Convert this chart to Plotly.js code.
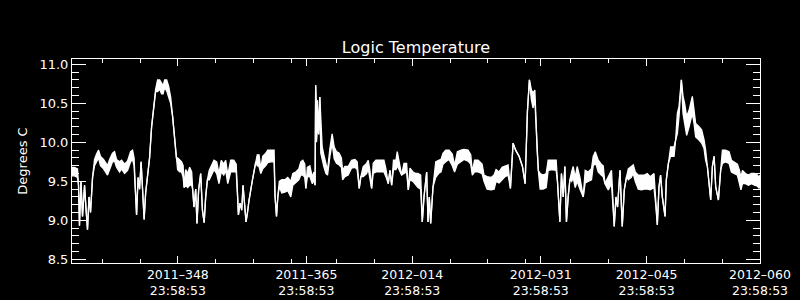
<!DOCTYPE html>
<html>
<head>
<meta charset="utf-8">
<script src="https://cdn.plot.ly/plotly-3.0.1.min.js"></script>
<style>
html,body{margin:0;padding:0;background:#000;}
#chart{width:800px;height:300px;}
</style>
</head>
<body>
<div id="chart"></div>
<script>
// Time axis: elapsed days since 2011-334 (2011-11-30) 23:58:53
const START_TIME = '2011-11-30 23:58:53';
const END_TIME = '2012-02-29 23:58:53';

const elapsedDays = [
0.00,0.33,0.73,0.86,0.99,1.19,1.39,1.66,1.85,2.05,2.25,2.45,2.72,2.98,3.25,3.51,3.77,4.17,4.70,4.97,
5.36,5.63,5.89,6.29,6.56,6.95,7.35,7.75,8.01,8.21,8.34,8.54,8.74,8.94,9.14,9.34,9.54,9.74,10.00,10.26,
10.53,10.79,11.06,11.32,11.59,11.85,12.05,12.25,12.52,12.78,13.05,13.31,13.58,13.80,13.97,14.24,14.50,14.70,14.83,
15.03,15.30,15.56,15.83,15.96,16.13,16.36,16.53,16.75,17.02,17.25,17.48,17.68,17.91,18.15,18.48,18.78,19.14,19.44,19.74,
20.07,20.33,20.60,20.99,21.39,21.72,21.88,22.01,22.23,22.45,22.62,22.81,23.02,23.21,23.42,23.87,24.30,24.50,24.74,24.97,
25.23,25.63,25.89,26.29,26.73,26.86,27.05,27.22,27.42,27.75,28.15,28.54,28.94,29.21,29.60,30.00,30.26,
30.53,30.79,30.93,31.13,31.46,31.79,31.99,32.15,32.23,32.34,32.48,32.65,32.78,32.91,33.09,33.31,33.58,33.80,34.11,34.41,
34.68,34.99,35.34,35.63,35.79,36.09,36.53,36.98,37.42,37.72,37.99,38.21,38.52,38.97,39.18,39.40,39.63,39.84,40.20,40.73,
41.26,41.52,41.83,42.05,42.28,42.52,42.85,43.02,43.38,43.60,43.91,44.26,44.48,44.70,45.10,45.50,
45.76,46.12,46.33,46.56,46.91,47.09,47.26,47.44,47.75,48.11,48.48,48.81,49.07,49.43,49.87,50.30,50.60,50.97,51.46,51.85,
52.38,52.74,52.95,53.25,53.71,54.24,54.50,54.90,55.43,55.83,56.09,56.49,56.89,57.28,57.68,57.99,58.34,58.68,59.14,59.58,
59.93,60.24,60.50,60.77,60.99,61.22,61.35,61.52,61.68,
61.92,62.32,62.72,62.98,63.51,64.04,64.21,64.40,64.53,64.74,64.97,65.19,65.40,65.63,65.85,66.09,66.29,66.56,66.82,67.18,
67.62,67.88,68.28,68.71,68.94,69.21,69.38,69.60,70.00,70.26,70.49,70.93,71.36,71.72,71.95,72.16,72.48,72.78,73.05,73.35,
73.58,73.97,74.24,74.50,74.90,75.30,75.70,
76.09,76.49,76.98,77.19,77.42,77.64,77.85,78.08,78.30,78.44,78.61,78.87,79.18,79.63,79.84,80.07,80.29,80.60,80.82,81.03,
81.30,81.62,82.05,82.28,82.49,82.94,83.28,83.60,83.81,84.04,84.26,84.48,84.70,84.93,85.14,85.50,85.80,86.03,86.42,86.91,
87.22,87.62,88.01,88.28,88.48,88.68,89.07,89.47,89.87,90.26,90.66,90.89,91.00
];

// lower edge of the temperature trace (deg C)
const tempLow = [
9.57,9.57,9.55,9.45,8.93,9.50,9.05,9.45,9.15,8.88,9.30,9.10,9.55,9.70,9.75,9.80,9.70,9.66,9.58,9.65,
9.75,9.76,9.68,9.62,9.66,9.60,9.64,9.75,9.78,9.70,9.50,9.07,9.55,9.40,9.75,9.30,9.01,9.35,9.60,9.80,
10.20,10.45,10.65,10.65,10.68,10.62,10.62,10.70,10.66,10.58,10.50,10.33,10.05,9.77,9.65,9.62,9.62,9.55,9.42,
9.45,9.42,9.45,9.45,9.40,9.17,9.40,8.96,9.39,9.60,9.13,8.97,9.30,9.52,9.52,9.60,9.65,9.60,9.47,9.62,
9.58,9.64,9.47,9.62,9.62,9.62,9.35,9.07,9.22,9.13,9.45,9.22,8.98,9.10,9.26,9.52,9.75,9.70,9.69,9.60,
9.66,9.70,9.74,9.75,9.75,9.30,9.05,9.30,9.43,9.35,9.36,9.38,9.30,9.45,9.48,9.52,9.58,
9.58,9.55,9.41,9.56,9.56,9.47,9.52,9.45,10.73,10.00,10.20,10.10,10.58,9.86,9.77,9.69,9.60,9.58,9.82,9.99,
9.79,9.73,9.71,9.68,9.52,9.56,9.58,9.67,9.68,9.65,9.41,9.56,9.56,9.60,9.66,9.52,9.41,9.60,9.62,9.62,
9.62,9.56,9.47,9.64,9.45,9.65,9.65,9.70,9.62,9.58,9.60,9.62,9.39,9.52,9.50,9.45,
9.42,9.40,8.98,9.30,9.62,8.98,9.30,8.96,9.43,9.55,9.60,9.62,9.72,9.75,9.78,9.70,9.62,9.72,9.76,9.78,
9.76,9.72,9.58,9.62,9.62,9.60,9.50,9.40,9.39,9.40,9.50,9.48,9.52,9.56,9.58,9.41,9.99,9.90,9.82,9.69,
9.47,10.40,10.80,10.54,10.44,10.55,10.29,9.90,9.64,
9.40,9.40,9.42,9.64,9.65,9.64,9.50,9.13,8.98,9.60,9.30,9.69,8.98,9.30,9.52,9.50,9.55,9.42,9.50,9.40,
9.30,9.48,9.50,9.52,9.70,9.73,9.70,9.62,9.58,9.56,9.47,9.39,9.47,8.92,9.30,9.17,9.64,8.92,9.39,9.56,
9.52,9.55,9.60,9.50,9.40,9.39,9.40,
9.40,9.39,9.42,9.22,8.94,9.43,9.58,9.30,9.09,9.05,9.52,9.73,9.82,9.82,10.03,10.11,10.33,10.80,10.37,10.24,
10.09,10.20,10.37,10.24,10.07,10.03,9.99,9.92,9.77,9.69,9.47,9.26,9.69,9.82,9.43,9.26,9.645,9.73,9.75,9.73,
9.62,9.60,9.58,9.47,9.39,9.47,9.47,9.45,9.47,9.45,9.44,9.41,9.45
];

// upper edge of the temperature trace (deg C)
const tempHigh = [
9.68,9.68,9.66,9.45,8.93,9.50,9.05,9.45,9.15,8.88,9.30,9.10,9.55,9.78,9.85,9.90,9.82,9.78,9.70,9.78,
9.86,9.88,9.78,9.75,9.77,9.72,9.76,9.88,9.90,9.80,9.50,9.07,9.55,9.40,9.75,9.30,9.01,9.35,9.60,9.80,
10.20,10.45,10.68,10.80,10.80,10.76,10.72,10.80,10.80,10.72,10.58,10.33,10.05,9.80,9.80,9.77,9.75,9.70,9.42,
9.65,9.60,9.68,9.62,9.40,9.17,9.40,8.96,9.39,9.60,9.13,8.97,9.30,9.52,9.64,9.70,9.77,9.75,9.60,9.77,
9.72,9.77,9.58,9.77,9.77,9.72,9.35,9.07,9.22,9.13,9.45,9.22,8.98,9.10,9.26,9.52,9.75,9.84,9.84,9.66,
9.82,9.86,9.90,9.90,9.90,9.30,9.05,9.30,9.50,9.52,9.52,9.55,9.50,9.60,9.62,9.66,9.75,
9.77,9.72,9.41,9.68,9.70,9.55,9.62,9.45,10.73,10.41,10.54,10.15,10.58,10.20,9.94,9.84,9.73,9.64,9.92,10.11,
9.94,9.88,9.86,9.80,9.64,9.69,9.69,9.77,9.78,9.75,9.41,9.56,9.69,9.73,9.77,9.64,9.41,9.73,9.77,9.77,
9.77,9.66,9.47,9.64,9.45,9.77,9.77,9.88,9.71,9.58,9.73,9.73,9.39,9.67,9.62,9.60,
9.60,9.58,8.98,9.30,9.62,8.98,9.30,8.96,9.43,9.75,9.77,9.78,9.86,9.90,9.90,9.85,9.70,9.88,9.90,9.91,
9.90,9.84,9.62,9.77,9.77,9.72,9.58,9.56,9.55,9.58,9.65,9.62,9.68,9.70,9.71,9.41,9.99,9.90,9.82,9.69,
9.47,10.40,10.80,10.67,10.63,10.67,10.29,9.90,9.64,
9.60,9.58,9.60,9.77,9.77,9.77,9.50,9.13,8.98,9.60,9.30,9.69,8.98,9.30,9.52,9.62,9.69,9.55,9.69,9.55,
9.30,9.64,9.62,9.66,9.82,9.88,9.84,9.77,9.72,9.70,9.47,9.56,9.64,8.92,9.30,9.17,9.64,8.92,9.39,9.56,
9.66,9.69,9.71,9.62,9.58,9.58,9.58,
9.60,9.56,9.60,9.22,8.94,9.43,9.58,9.30,9.09,9.05,9.52,9.73,9.94,9.94,10.03,10.37,10.46,10.80,10.59,10.50,
10.33,10.41,10.59,10.41,10.24,10.20,10.16,10.03,9.90,9.69,9.47,9.26,9.69,9.82,9.43,9.26,9.645,9.90,9.90,9.88,
9.77,9.75,9.72,9.64,9.55,9.64,9.60,9.58,9.60,9.60,9.58,9.55,9.58
];

// Labeled x ticks
const majorTickTimes = ['2011-12-14 23:58:53','2011-12-31 23:58:53','2012-01-14 23:58:53',
                        '2012-01-31 23:58:53','2012-02-14 23:58:53','2012-02-29 23:58:53'];
const majorTickLabels = ['2011–348<br>23:58:53','2011–365<br>23:58:53','2012–014<br>23:58:53',
                         '2012–031<br>23:58:53','2012–045<br>23:58:53','2012–060<br>23:58:53'];
// Minor x ticks
const minorTickTimes = ['2011-12-04 23:58:53','2011-12-09 23:58:53','2011-12-19 23:58:53','2011-12-24 23:58:53','2011-12-29 23:58:53',
                        '2012-01-04 23:58:53','2012-01-09 23:58:53','2012-01-19 23:58:53','2012-01-24 23:58:53','2012-01-29 23:58:53',
                        '2012-02-04 23:58:53','2012-02-09 23:58:53','2012-02-19 23:58:53','2012-02-24 23:58:53'];

if (elapsedDays.length !== tempLow.length || elapsedDays.length !== tempHigh.length) {
  console.error('length mismatch', elapsedDays.length, tempLow.length, tempHigh.length);
}

const startMs = Date.UTC(2011, 10, 30, 23, 58, 53);
function toTimeString(d) {
  return new Date(startMs + d * 86400000).toISOString().replace('T', ' ').slice(0, 19);
}
const times = elapsedDays.map(toTimeString);

const traceHigh = {
  x: times, y: tempHigh, type: 'scatter', mode: 'lines',
  line: {color: '#ffffff', width: 1.3}, hoverinfo: 'skip'
};
const traceLow = {
  x: times, y: tempLow, type: 'scatter', mode: 'lines',
  line: {color: '#ffffff', width: 1.3}, fill: 'tonexty', fillcolor: '#ffffff', hoverinfo: 'skip'
};

const layout = {
  width: 800, height: 300,
  paper_bgcolor: '#000000', plot_bgcolor: '#000000',
  margin: {l: 72, r: 40, t: 59, b: 37, pad: 0},
  showlegend: false,
  font: {family: 'DejaVu Sans', color: '#ffffff', size: 13},
  title: {text: 'Logic Temperature', font: {size: 16, color: '#ffffff', family: 'DejaVu Sans'},
          x: 0.5, xref: 'paper', xanchor: 'center', y: 1 - 47 / 300, yref: 'container', yanchor: 'middle'},
  xaxis: {
    type: 'date', range: [START_TIME, END_TIME],
    showgrid: false, zeroline: false,
    showline: true, linecolor: '#ffffff', linewidth: 1, mirror: 'ticks',
    ticks: 'inside', ticklen: 7, tickwidth: 1, tickcolor: '#ffffff',
    tickmode: 'array', tickvals: majorTickTimes, ticktext: majorTickLabels,
    tickfont: {size: 12.5, color: '#ffffff'},
    minor: {tickmode: 'array', tickvals: minorTickTimes, ticks: 'inside', ticklen: 4,
            tickcolor: '#ffffff', tickwidth: 1, showgrid: false}
  },
  yaxis: {
    range: [8.453, 11.068],
    showgrid: false, zeroline: false,
    showline: true, linecolor: '#ffffff', linewidth: 1, mirror: 'ticks',
    ticks: 'inside', ticklen: 14, tickwidth: 1, tickcolor: '#ffffff',
    tickmode: 'linear', tick0: 8.5, dtick: 0.5, tickformat: '.1f',
    tickfont: {size: 13, color: '#ffffff'},
    minor: {tickmode: 'linear', tick0: 8.5, dtick: 0.1, ticks: 'inside', ticklen: 7,
            tickcolor: '#ffffff', tickwidth: 1, showgrid: false},
    title: {text: 'Degrees C', font: {size: 13, color: '#ffffff'}, standoff: 8}
  }
};

Plotly.newPlot('chart', [traceHigh, traceLow], layout, {staticPlot: true, displayModeBar: false});
</script>
</body>
</html>
